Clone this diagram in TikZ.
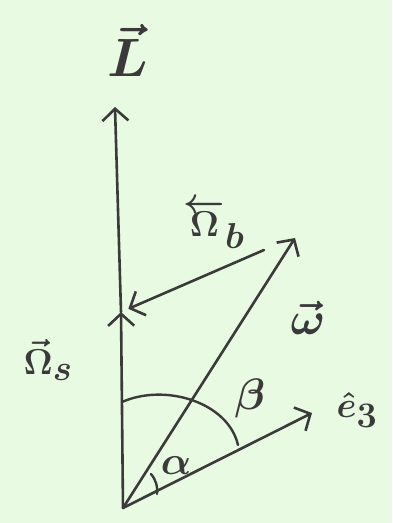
\RequirePackage{fix-cm}
\documentclass[tikz,border=0pt]{standalone}
\usetikzlibrary{arrows.meta}
\definecolor{paper}{RGB}{232,250,226}
\definecolor{ink}{RGB}{58,58,58}
\begin{document}
\begin{tikzpicture}[x=1pt,y=-1pt,
  vec/.style={draw=ink,line width=2.6pt,line cap=round,-{Straight Barb[length=12pt,width=26pt,line width=2.6pt]}},
  arcline/.style={draw=ink,line width=2.4pt,line cap=round},
  lab/.style={text=ink,font=\fontsize{36}{40}\selectfont\boldmath,inner sep=0pt}]
\fill[paper] (0,0) rectangle (392,523);
\useasboundingbox (0,0) rectangle (392,523);
\coordinate (O) at (123,508);
\coordinate (L) at (115,107);
\coordinate (S) at (121,312);
\coordinate (W) at (295,238);
\coordinate (B) at (264,250);
\coordinate (E) at (312,413);
\draw[vec] (O) -- (S);
\draw[vec] (S) -- (L);
\draw[vec] (O) -- (W);
\draw[vec] (O) -- (E);
\draw[vec, shorten >=8pt] (B) -- (S);
% beta arc
\draw[arcline] (122,402) .. controls (165,383) and (228,402) .. (238,445);
% alpha arc
\draw[arcline] (151,474) .. controls (156,480) and (158,487) .. (157,494);
% labels
\node[lab,font=\fontsize{54}{60}\selectfont\boldmath] (lL) at (128,50) {$\vec{L}$};
\node[lab] (lB) at (214,224) {$\overleftarrow{\Omega}_{\textstyle b}$};
\node[lab] (lS) at (48,360) {$\vec{\Omega}_{\textstyle s}$};
\node[lab,font=\fontsize{46}{50}\selectfont\boldmath] (lW) at (308,318) {$\vec{\omega}$};
\node[lab,font=\fontsize{44}{48}\selectfont\boldmath] (lBeta) at (250,398) {$\beta$};
\node[lab] (lE) at (357,410) {$\hat{e}_{\textstyle 3}$};
\node[lab,font=\fontsize{40}{44}\selectfont\boldmath] (lA) at (176,466) {$\alpha$};
\end{tikzpicture}
\end{document}
